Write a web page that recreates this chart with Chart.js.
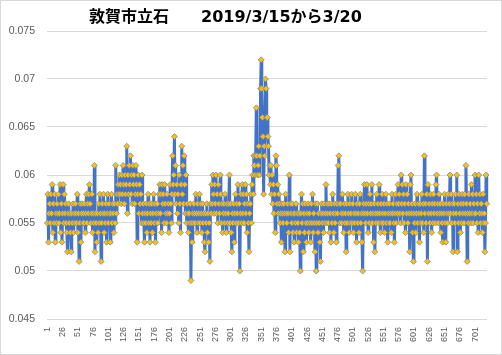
<!DOCTYPE html>
<html><head><meta charset="utf-8">
<script src="https://cdn.jsdelivr.net/npm/chart.js@4"></script>
<style>
html,body{margin:0;padding:0;background:#fff;}
#wrap{position:relative;width:502px;height:355px;overflow:hidden;}
#frame{position:absolute;left:0;top:0;width:502px;height:355px;box-sizing:border-box;border:1px solid #d9d9d9;pointer-events:none;}
#title{position:absolute;left:89px;top:7px;font-weight:bold;font-size:16px;font-family:'DejaVu Sans','Noto Sans CJK JP',sans-serif;line-height:20px;white-space:nowrap;color:#000;}
canvas{position:absolute;left:0;top:0;}
</style></head>
<body><div id="wrap"><canvas id="c" width="502" height="355" style="width:502px;height:355px"></canvas><div id="title">敦賀市立石　　2019/3/15から3/20</div><div id="frame"></div></div>
<script>
const titleText = '敦賀市立石　　2019/3/15から3/20';
const yTicks = [0.045, 0.05, 0.055, 0.06, 0.065, 0.07, 0.075];
const xTickLabels = ['1','26','51','76','101','126','151','176','201','226','251','276','301','326','351','376','401','426','451','476','501','526','551','576','601','626','651','676','701'];

const day1 = [
0.055,0.058,0.053,0.056,0.057,0.055,0.058,0.056,0.059,0.054,0.057,0.055,0.058,0.053,0.056,0.055,0.057,0.056,0.058,0.055,
0.056,0.059,0.054,0.057,0.053,0.056,0.059,0.055,0.058,0.056,0.057,0.055,0.054,0.052,0.056,0.057,0.055,0.056,0.054,0.052,
0.056,0.055,0.057,0.054,0.056,0.055,0.057,0.056,0.055,0.058,0.054,0.056,0.051,0.055,0.057,0.053,0.056,0.057,0.055,0.056,
0.055,0.057,0.054,0.056,0.058,0.055,0.057,0.056,0.058,0.059,0.057,0.055,0.056,0.058,0.054,0.056,0.055,0.061,0.052,0.056,
0.055,0.053,0.056,0.054,0.057,0.055,0.058,0.056,0.051,0.055,0.057,0.056,0.058,0.054,0.056,0.055,0.057,0.053,0.056,0.058,
0.055,0.057,0.056,0.053,0.056,0.058,0.055,0.057,0.056,0.054,0.057,0.055,0.061,0.056,0.058,0.057,0.059,0.058,0.060,0.058];
const day2 = [
0.059,0.057,0.060,0.058,0.061,0.059,0.057,0.060,0.058,0.059,0.063,0.056,0.060,0.058,0.061,0.059,0.062,0.058,0.060,0.057,
0.061,0.059,0.060,0.057,0.058,0.061,0.059,0.053,0.058,0.060,0.056,0.059,0.057,0.058,0.055,0.060,0.056,0.057,0.055,0.053,
0.056,0.055,0.057,0.054,0.056,0.058,0.055,0.057,0.053,0.056,0.055,0.057,0.054,0.056,0.058,0.055,0.057,0.053,0.056,0.055,
0.057,0.055,0.056,0.058,0.059,0.056,0.058,0.054,0.059,0.057,0.058,0.055,0.059,0.057,0.056,0.055,0.058,0.056,0.057,0.054,
0.056,0.059,0.057,0.055,0.058,0.062,0.059,0.060,0.064,0.058,0.061,0.057,0.059,0.056,0.058,0.055,0.060,0.057,0.054,0.059,
0.063,0.058,0.061,0.057,0.062,0.059,0.056,0.060,0.055,0.057,0.056,0.054,0.056,0.055,0.057,0.049,0.055,0.053,0.056,0.055];
const day3 = [
0.057,0.056,0.055,0.058,0.056,0.054,0.057,0.055,0.056,0.058,0.055,0.057,0.056,0.054,0.057,0.055,0.056,0.053,0.052,0.056,
0.055,0.057,0.054,0.056,0.053,0.055,0.051,0.057,0.056,0.059,0.057,0.060,0.058,0.056,0.059,0.057,0.060,0.056,0.058,0.055,
0.059,0.057,0.056,0.060,0.058,0.055,0.057,0.054,0.056,0.057,0.055,0.058,0.056,0.054,0.057,0.055,0.056,0.057,0.060,0.055,
0.057,0.054,0.052,0.056,0.055,0.057,0.053,0.056,0.058,0.055,0.057,0.056,0.059,0.055,0.057,0.050,0.056,0.058,0.055,0.059,
0.056,0.058,0.055,0.057,0.059,0.056,0.058,0.054,0.057,0.055,0.052,0.056,0.057,0.058,0.055,0.059,0.060,0.058,0.062,0.061,
0.060,0.062,0.067,0.062,0.060,0.061,0.063,0.060,0.062,0.069,0.072,0.069,0.066,0.064,0.058,0.063,0.062,0.070,0.069,0.066];
const day4 = [
0.066,0.064,0.063,0.060,0.061,0.059,0.061,0.058,0.060,0.057,0.059,0.056,0.058,0.054,0.062,0.061,0.057,0.059,0.056,0.058,
0.057,0.055,0.056,0.053,0.057,0.056,0.055,0.057,0.056,0.052,0.058,0.056,0.055,0.057,0.056,0.054,0.060,0.052,0.057,0.056,
0.055,0.057,0.054,0.056,0.053,0.056,0.055,0.057,0.054,0.056,0.055,0.053,0.056,0.054,0.050,0.056,0.058,0.055,0.057,0.052,
0.056,0.054,0.057,0.055,0.053,0.056,0.055,0.057,0.054,0.056,0.055,0.053,0.057,0.055,0.058,0.054,0.056,0.055,0.052,0.057,
0.050,0.055,0.057,0.054,0.056,0.055,0.053,0.051,0.056,0.057,0.055,0.056,0.054,0.057,0.055,0.056,0.059,0.055,0.057,0.056,
0.055,0.057,0.054,0.056,0.053,0.057,0.055,0.058,0.056,0.054,0.057,0.055,0.056,0.053,0.057,0.056,0.061,0.062,0.057,0.055];
const day5 = [
0.057,0.056,0.055,0.058,0.056,0.054,0.057,0.055,0.056,0.052,0.057,0.055,0.058,0.056,0.054,0.057,0.055,0.056,0.058,0.055,
0.057,0.054,0.056,0.055,0.058,0.056,0.053,0.057,0.055,0.056,0.054,0.057,0.058,0.055,0.056,0.053,0.050,0.056,0.057,0.059,
0.056,0.055,0.057,0.059,0.056,0.054,0.057,0.055,0.058,0.056,0.057,0.059,0.055,0.056,0.053,0.057,0.052,0.056,0.055,0.058,
0.056,0.057,0.055,0.059,0.056,0.054,0.057,0.055,0.058,0.056,0.055,0.057,0.054,0.056,0.058,0.055,0.057,0.053,0.056,0.055,
0.057,0.055,0.056,0.054,0.058,0.056,0.057,0.055,0.053,0.056,0.058,0.055,0.057,0.056,0.059,0.057,0.058,0.056,0.055,0.060,
0.057,0.059,0.056,0.058,0.055,0.057,0.054,0.059,0.056,0.058,0.055,0.057,0.056,0.052,0.059,0.060,0.056,0.057,0.054,0.051];
const day6 = [
0.056,0.055,0.057,0.054,0.056,0.058,0.055,0.057,0.056,0.053,0.057,0.055,0.056,0.058,0.055,0.057,0.054,0.062,0.056,0.057,
0.055,0.058,0.051,0.059,0.056,0.057,0.055,0.058,0.056,0.054,0.057,0.055,0.058,0.056,0.057,0.055,0.059,0.060,0.056,0.057,
0.055,0.058,0.056,0.057,0.054,0.056,0.055,0.053,0.057,0.056,0.058,0.055,0.053,0.057,0.056,0.055,0.058,0.056,0.057,0.060,
0.056,0.058,0.055,0.057,0.052,0.056,0.057,0.055,0.058,0.056,0.060,0.052,0.057,0.055,0.058,0.056,0.054,0.057,0.055,0.058,
0.056,0.057,0.055,0.058,0.056,0.061,0.057,0.051,0.056,0.055,0.058,0.056,0.057,0.055,0.059,0.056,0.058,0.055,0.057,0.056,
0.060,0.056,0.058,0.055,0.057,0.054,0.060,0.056,0.058,0.055,0.057,0.056,0.054,0.058,0.055,0.056,0.052,0.055,0.060,0.057];

const values = [].concat(day1, day2, day3, day4, day5, day6);
const categories = values.map((_, i) => String(i + 1));

document.getElementById('title').textContent = titleText;

new Chart(document.getElementById('c'), {
  type: 'line',
  data: {
    labels: categories,
    datasets: [{
      data: values,
      borderColor: '#4472C4',
      borderWidth: 3,
      tension: 0,
      fill: false,
      pointStyle: 'rectRot',
      pointRadius: 3,
      pointBackgroundColor: '#FFC000',
      pointBorderColor: '#6a86c0',
      pointBorderWidth: 0.75
    }]
  },
  options: {
    responsive: false,
    animation: false,
    layout: { padding: { top: 31, right: 15, bottom: 0, left: 0 } },
    plugins: { legend: { display: false }, title: { display: false }, tooltip: { enabled: false } },
    scales: {
      x: {
        type: 'category',
        offset: true,
        grid: { display: false, drawTicks: false },
        border: { display: false },
        ticks: {
          autoSkip: false, minRotation: 90, maxRotation: 90, padding: 8,
          color: '#595959', font: { family: 'Liberation Sans', size: 9 },
          callback: function (v, i) { const l = categories[i]; return xTickLabels.includes(l) ? l : null; }
        },
        afterFit: (s) => { s.height = 36; }
      },
      y: {
        min: 0.045, max: 0.075,
        grid: { color: '#d9d9d9', drawTicks: false, lineWidth: 1 },
        border: { display: false },
        ticks: {
          padding: 12, color: '#595959', font: { family: 'Liberation Sans', size: 10.5 },
          callback: (v) => String(+Number(v).toFixed(3))
        },
        afterBuildTicks: (s) => { s.ticks = yTicks.map(v => ({ value: v })); },
        afterFit: (s) => { s.width = 47; }
      }
    }
  }
});
</script>
</body></html>
